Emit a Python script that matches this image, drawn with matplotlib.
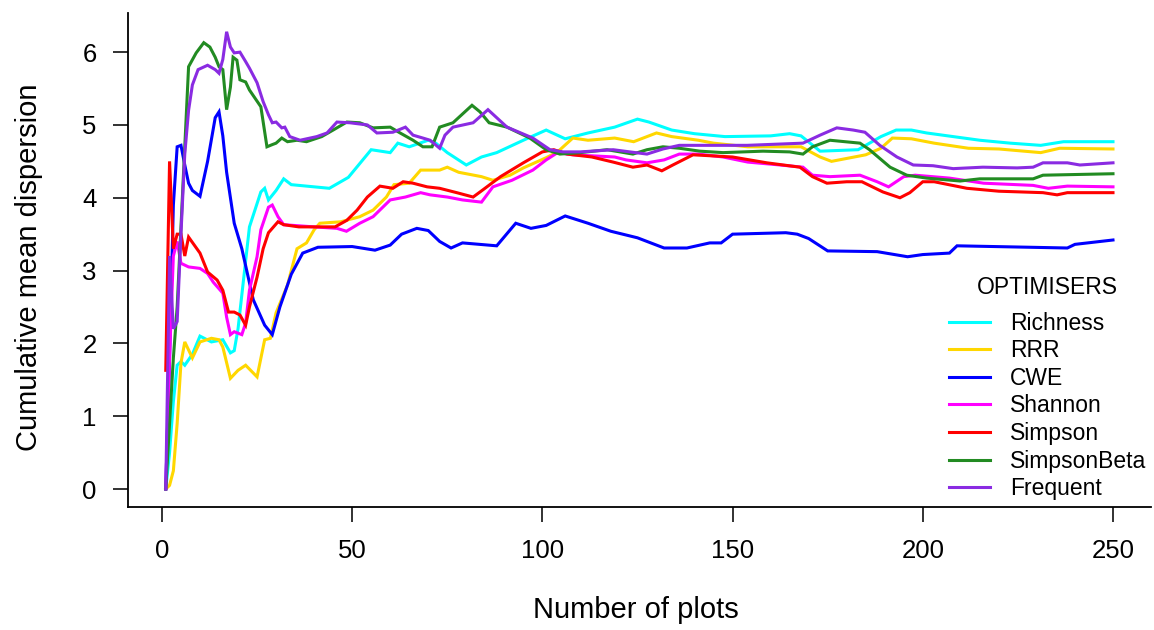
import matplotlib
matplotlib.use("Agg")
import matplotlib.pyplot as plt

plt.rcParams["font.family"] = ["Liberation Sans", "DejaVu Sans"]

# series (plot number, cumulative mean dispersion)
richness_x = [1, 2, 3, 4, 5, 6, 8, 10, 13, 16, 18, 19, 20, 23, 26, 27, 28, 30, 32, 34,
              44, 49, 55, 60, 62, 65, 70, 72, 75, 80, 84, 88, 95, 101, 106, 112, 119, 125, 128, 134,
              140, 148, 160, 165, 168, 173, 183, 189, 193, 197, 201, 208, 215, 223, 231, 237, 250]
richness_y = [0, 0.5, 1.2, 1.7, 1.75, 1.7, 1.85, 2.1, 2.02, 2.05, 1.87, 1.9, 2.2, 3.6, 4.08, 4.13, 3.97, 4.1, 4.26, 4.18,
              4.13, 4.28, 4.66, 4.62, 4.75, 4.7, 4.79, 4.75, 4.62, 4.45, 4.56, 4.62, 4.79, 4.93, 4.81, 4.89, 4.97, 5.08, 5.04, 4.93,
              4.88, 4.84, 4.85, 4.88, 4.85, 4.64, 4.66, 4.84, 4.93, 4.93, 4.89, 4.84, 4.79, 4.75, 4.72, 4.77, 4.77]

rrr_x = [1, 2, 3, 4, 5, 6, 8, 10, 13, 15, 16, 18, 20, 22, 25, 27, 28.5, 30, 33, 35.5,
         38, 40, 41.5, 47, 52, 55.5, 59, 61, 65, 68, 73, 75, 78, 84, 87, 91.5, 95, 101, 104, 108,
         112, 119, 124, 130, 134, 141, 145, 154, 162, 168, 173, 176, 182, 185, 189, 192, 197, 203, 212, 220,
         231, 236, 250]
rrr_y = [0, 0.05, 0.25, 0.9, 1.73, 2.02, 1.8, 2.02, 2.07, 2.05, 1.95, 1.52, 1.63, 1.7, 1.54, 2.05, 2.07, 2.42, 2.8, 3.3,
         3.38, 3.56, 3.65, 3.67, 3.74, 3.83, 4.01, 4.18, 4.2, 4.38, 4.38, 4.42, 4.35, 4.29, 4.24, 4.31, 4.41, 4.55, 4.63, 4.82,
         4.79, 4.82, 4.77, 4.89, 4.84, 4.79, 4.75, 4.7, 4.7, 4.7, 4.56, 4.5, 4.56, 4.59, 4.68, 4.82, 4.81, 4.75, 4.68, 4.67,
         4.62, 4.68, 4.67]

cwe_x = [1, 2, 3, 4, 5, 6, 7, 8, 10, 12, 14, 15, 16, 17, 19, 21, 24, 27, 29, 31,
         34, 37, 41, 50, 56, 60, 63, 67, 70, 73, 76, 79, 88, 93, 97, 101, 106, 112, 118, 125,
         132, 138, 144, 147, 150, 164, 167, 170, 175, 188, 196, 200, 207, 209, 238, 240, 250]
cwe_y = [0, 1.8, 3.9, 4.7, 4.72, 4.45, 4.2, 4.1, 4.02, 4.5, 5.1, 5.18, 4.85, 4.35, 3.65, 3.3, 2.6, 2.25, 2.12, 2.5,
         2.95, 3.24, 3.32, 3.33, 3.28, 3.35, 3.5, 3.58, 3.55, 3.4, 3.31, 3.38, 3.34, 3.65, 3.58, 3.62, 3.75, 3.65, 3.54, 3.45,
         3.31, 3.31, 3.38, 3.38, 3.5, 3.52, 3.5, 3.44, 3.27, 3.26, 3.19, 3.22, 3.24, 3.34, 3.31, 3.36, 3.42]

shannon_x = [1, 2, 3, 4, 5, 7, 10, 12, 13.5, 16, 17, 18, 19, 21, 22, 23, 25, 26, 28, 29,
             30.5, 32, 40, 46, 48.5, 52, 55.5, 60, 64, 68, 70.5, 75, 79, 84, 87, 92, 97.5, 101, 104, 108,
             119, 122, 127.5, 132, 136, 141, 147.5, 154, 162.5, 168.5, 171, 175.6, 183.5, 188, 191, 195, 198, 207, 216, 229,
             233, 238, 250]
shannon_y = [0, 1.8, 3.2, 3.4, 3.1, 3.05, 3.03, 2.96, 2.84, 2.69, 2.36, 2.12, 2.16, 2.12, 2.28, 2.73, 3.19, 3.56, 3.87, 3.9,
             3.74, 3.63, 3.6, 3.58, 3.54, 3.65, 3.74, 3.97, 4.01, 4.07, 4.04, 4.01, 3.97, 3.94, 4.15, 4.24, 4.38, 4.52, 4.62, 4.59,
             4.56, 4.52, 4.48, 4.52, 4.6, 4.6, 4.56, 4.49, 4.45, 4.42, 4.31, 4.29, 4.31, 4.22, 4.15, 4.29, 4.31, 4.27, 4.2, 4.17,
             4.13, 4.16, 4.15]

simpson_x = [1, 2, 3, 4, 5, 6, 7, 10, 12, 14.5, 16, 17.5, 19, 20.5, 22, 23, 25, 26.6, 28, 30.5,
             32, 36, 41, 45.5, 48.6, 51.3, 54, 57.3, 60.7, 63.4, 66, 69.7, 73, 77.5, 81.8, 84.4, 89, 95, 100, 103,
             106.5, 113, 118.6, 123.8, 127.5, 131.4, 134.3, 139.6, 150, 159, 167.7, 171, 174.8, 180, 184, 189.5, 194, 196.6, 200, 203,
             211.6, 220, 231.6, 235.3, 238, 250]
simpson_y = [1.63, 4.5, 3.3, 3.5, 3.5, 3.2, 3.46, 3.24, 2.98, 2.87, 2.73, 2.43, 2.43, 2.39, 2.25, 2.5, 2.91, 3.3, 3.52, 3.67,
             3.63, 3.6, 3.6, 3.6, 3.69, 3.83, 4.01, 4.16, 4.13, 4.22, 4.2, 4.15, 4.13, 4.07, 4.01, 4.11, 4.29, 4.48, 4.63, 4.66,
             4.6, 4.56, 4.49, 4.42, 4.45, 4.37, 4.45, 4.59, 4.56, 4.48, 4.42, 4.29, 4.2, 4.22, 4.22, 4.08, 4.0, 4.07, 4.22, 4.22,
             4.13, 4.09, 4.07, 4.04, 4.07, 4.07]

simpsonbeta_x = [1, 2, 3, 4, 5, 6, 7, 9, 11, 12.6, 14, 15, 16, 17, 18, 18.7, 19.7, 20.5, 22, 23,
                 26, 27.6, 29, 30, 31.5, 33, 35.5, 38, 42, 45, 48.6, 52, 55.5, 60, 62.6, 66, 68.6, 71, 73, 76.5,
                 81.5, 83.6, 86, 90.7, 96.7, 101, 104.6, 110, 117, 120.4, 123.8, 127.5, 131.7, 136, 141.4, 147.5, 158, 165, 168.5, 171,
                 175.6, 183.5, 186, 191.4, 195.8, 201, 209.8, 215, 229, 231.6, 250]
simpsonbeta_y = [0, 0.9, 1.8, 2.5, 3.6, 4.7, 5.8, 5.99, 6.13, 6.07, 5.93, 5.8, 5.76, 5.21, 5.52, 5.93, 5.89, 5.62, 5.59, 5.48,
                 5.25, 4.7, 4.73, 4.75, 4.82, 4.77, 4.79, 4.77, 4.84, 4.93, 5.04, 5.03, 4.96, 4.97, 4.89, 4.79, 4.7, 4.7, 4.97, 5.03,
                 5.27, 5.18, 5.03, 4.97, 4.82, 4.66, 4.6, 4.62, 4.66, 4.63, 4.6, 4.66, 4.7, 4.68, 4.64, 4.62, 4.64, 4.63, 4.6, 4.7,
                 4.79, 4.75, 4.66, 4.42, 4.31, 4.27, 4.23, 4.26, 4.26, 4.31, 4.33]

frequent_x = [1, 2, 3, 4, 5, 6, 7, 8, 9.5, 12, 14, 15, 16, 17, 18, 19, 20.5, 22, 23, 25,
              26.6, 28, 29, 30, 31.5, 32.3, 33.6, 36.3, 40.7, 43.4, 46, 49.4, 54, 56.5, 60.7, 64, 66, 68.6, 70.5, 73,
              74.4, 76.5, 81.8, 85.7, 90.7, 97.5, 102, 105.4, 110, 118.6, 123, 127.5, 131.7, 136, 141.4, 153.8, 168.5, 173, 177.4, 181.7,
              184.8, 188.7, 193.2, 197.5, 202.7, 208, 215.8, 224.8, 229, 231.6, 238, 241.3, 250]
frequent_y = [0, 3.2, 2.2, 2.3, 3.5, 4.6, 5.2, 5.55, 5.76, 5.82, 5.76, 5.71, 5.9, 6.28, 6.07, 5.99, 6.0, 5.87, 5.78, 5.58,
              5.32, 5.14, 5.03, 5.04, 4.96, 4.97, 4.84, 4.79, 4.84, 4.89, 5.04, 5.03, 5.0, 4.89, 4.9, 4.97, 4.86, 4.82, 4.79, 4.68,
              4.86, 4.97, 5.03, 5.21, 4.97, 4.82, 4.66, 4.63, 4.63, 4.66, 4.63, 4.6, 4.67, 4.72, 4.72, 4.72, 4.75, 4.86, 4.96, 4.93,
              4.9, 4.72, 4.56, 4.45, 4.44, 4.4, 4.42, 4.41, 4.42, 4.48, 4.48, 4.45, 4.48]

names = ["Richness", "RRR", "CWE", "Shannon", "Simpson", "SimpsonBeta", "Frequent"]
colours = ["#00FFFF", "#FFD700", "#0000FF", "#FF00FF", "#FF0000", "#228B22", "#8A2BE2"]
series = [(richness_x, richness_y), (rrr_x, rrr_y), (cwe_x, cwe_y), (shannon_x, shannon_y),
          (simpson_x, simpson_y), (simpsonbeta_x, simpsonbeta_y), (frequent_x, frequent_y)]

fig = plt.figure(figsize=(11.54, 6.3), dpi=100)
ax = fig.add_axes([0.1108, 0.1948, 0.8865, 0.7838])

for (xs, ys), name, col in zip(series, names, colours):
    ax.plot(xs, ys, color=col, lw=2.2, label=name, solid_joinstyle="miter")

ax.set_xlim(-8.96, 259.96)
ax.set_ylim(-0.251, 6.531)
ax.set_xticks([0, 50, 100, 150, 200, 250])
ax.set_yticks([0, 1, 2, 3, 4, 5, 6])

for side in ["top", "right"]:
    ax.spines[side].set_visible(False)
for side in ["left", "bottom"]:
    ax.spines[side].set_linewidth(1.3)

ax.tick_params(axis="both", length=10.5, width=1.3, labelsize=18.5, color="#222222")
ax.tick_params(axis="x", pad=12)
ax.tick_params(axis="y", pad=12)

ax.set_xlabel("Number of plots", fontsize=21)
ax.set_ylabel("Cumulative mean dispersion", fontsize=21)
ax.xaxis.set_label_coords(0.497, -0.18)
ax.yaxis.set_label_coords(-0.083, 0.487)

leg = ax.legend(title="OPTIMISERS", loc="upper left", bbox_to_anchor=(0.8026, 0.468),
                frameon=False, fontsize=16.5, title_fontsize=16.5, handlelength=1.79,
                handletextpad=0.87, labelspacing=0.2, borderpad=0, borderaxespad=0)
leg._legend_box.sep = 9

fig.savefig("out.png", dpi=100)
